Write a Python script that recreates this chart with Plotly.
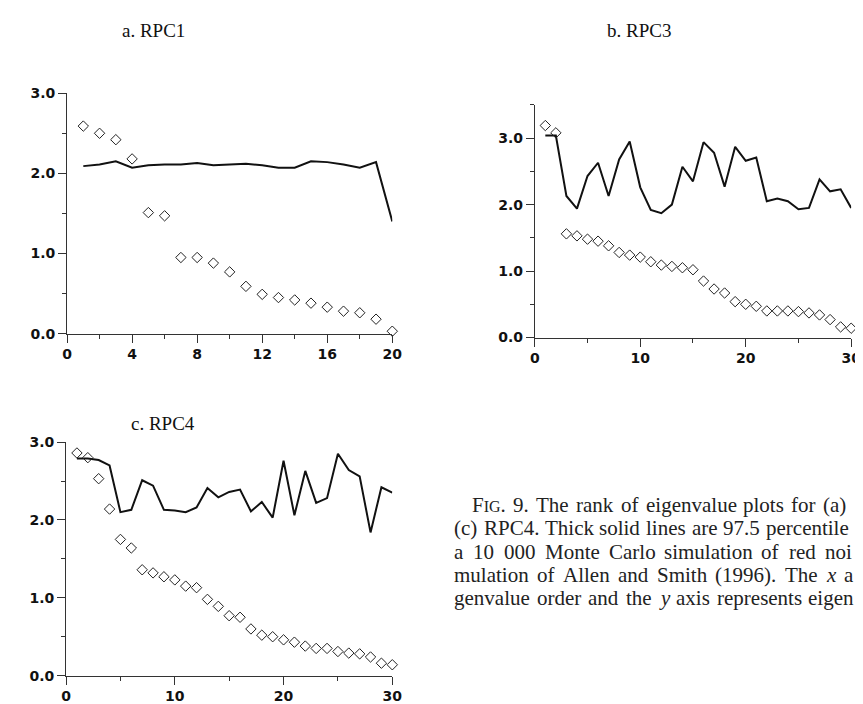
import plotly.graph_objects as go

# ---- data ----
order_a = list(range(1, 21))
eig_a = [2.59, 2.50, 2.42, 2.18, 1.51, 1.47, 0.95, 0.95, 0.88, 0.77,
         0.59, 0.49, 0.45, 0.42, 0.38, 0.33, 0.28, 0.26, 0.18, 0.03]
pct_a = [2.09, 2.11, 2.15, 2.07, 2.10, 2.11, 2.11, 2.13, 2.10, 2.11,
         2.12, 2.10, 2.07, 2.07, 2.15, 2.14, 2.11, 2.07, 2.14, 1.40]

order_b = list(range(1, 31))
eig_b = [3.19, 3.08, 1.56, 1.53, 1.48, 1.45, 1.38, 1.28, 1.24, 1.21,
         1.14, 1.09, 1.07, 1.05, 1.02, 0.85, 0.73, 0.67, 0.54, 0.50,
         0.47, 0.40, 0.40, 0.40, 0.39, 0.37, 0.34, 0.27, 0.16, 0.14]
pct_b = [3.04, 3.04, 2.13, 1.94, 2.43, 2.63, 2.13, 2.68, 2.95, 2.26,
         1.92, 1.87, 2.00, 2.57, 2.35, 2.94, 2.78, 2.27, 2.87, 2.66,
         2.71, 2.05, 2.09, 2.05, 1.93, 1.95, 2.38, 2.20, 2.23, 1.95]

order_c = list(range(1, 31))
eig_c = [2.86, 2.80, 2.53, 2.14, 1.75, 1.64, 1.36, 1.32, 1.27, 1.23,
         1.15, 1.13, 0.98, 0.89, 0.77, 0.75, 0.60, 0.52, 0.50, 0.46,
         0.43, 0.38, 0.35, 0.35, 0.31, 0.29, 0.28, 0.24, 0.16, 0.14]
pct_c = [2.79, 2.79, 2.77, 2.70, 2.10, 2.13, 2.51, 2.44, 2.13, 2.12,
         2.10, 2.16, 2.41, 2.29, 2.36, 2.39, 2.11, 2.23, 2.03, 2.76,
         2.06, 2.63, 2.22, 2.28, 2.85, 2.64, 2.56, 1.84, 2.42, 2.35]

titles = ["a. RPC1", "b. RPC3", "c. RPC4"]
caption_lines = [
    "FIG. 9. The rank of eigenvalue plots for (a)",
    "(c) RPC4. Thick solid lines are 97.5 percentile",
    "a 10 000 Monte Carlo simulation of red noi",
    "mulation of Allen and Smith (1996). The x a",
    "genvalue order and the y axis represents eigen",
]
italic_words = {"x", "y"}

W, H = 863, 704
fig = go.Figure()

panels = [
    (order_a, eig_a, pct_a, "x", "y"),
    (order_b, eig_b, pct_b, "x2", "y2"),
    (order_c, eig_c, pct_c, "x3", "y3"),
]
for xs, ev, pc, xa, ya in panels:
    fig.add_trace(go.Scatter(x=xs, y=pc, mode="lines", xaxis=xa, yaxis=ya,
                             line=dict(color="#111", width=2), showlegend=False,
                             cliponaxis=False))
    fig.add_trace(go.Scatter(x=xs, y=ev, mode="markers", xaxis=xa, yaxis=ya,
                             marker=dict(symbol="diamond-open", size=8,
                                         color="#222", line=dict(width=1)),
                             showlegend=False, cliponaxis=False))

def px_x(a, b):
    return [a / W, b / W]

def px_y(top, bottom):
    return [(H - bottom) / H, (H - top) / H]

tickfont = dict(family="DejaVu Sans, Arial, sans-serif", size=14, color="#111",
                weight="bold")

def xaxis(dom, rng, dt, mdt, anchor):
    return dict(domain=dom, range=rng, anchor=anchor, showgrid=False, zeroline=False,
                showline=True, linecolor="#333", linewidth=1,
                ticks="outside", ticklen=8, tickwidth=1, tickcolor="#333",
                tickmode="linear", tick0=0, dtick=dt, tickfont=tickfont,
                minor=dict(ticks="outside", ticklen=4, tickcolor="#333", dtick=mdt, tick0=0),
                fixedrange=True)

def yaxis(dom, rng, anchor):
    return dict(domain=dom, range=rng, anchor=anchor, showgrid=False, zeroline=False,
                showline=True, linecolor="#333", linewidth=1,
                ticks="outside", ticklen=8, tickwidth=1, tickcolor="#333",
                tickmode="linear", tick0=0, dtick=1, tickformat=".1f", tickfont=tickfont,
                minor=dict(ticks="outside", ticklen=4, tickcolor="#333", dtick=0.5, tick0=0),
                fixedrange=True)

fig.update_layout(
    width=W, height=H, autosize=False,
    margin=dict(l=0, r=0, t=0, b=0),
    paper_bgcolor="white", plot_bgcolor="white",
    xaxis=xaxis(px_x(55, 386), [0, 20], 4, 2, "y"),
    yaxis=yaxis(px_y(79, 325), [0, 3], "x"),
    xaxis2=xaxis(px_x(531, 853), [0, 30], 10, 5, "y2"),
    yaxis2=yaxis(px_y(91, 329), [0, 3.5], "x2"),
    xaxis3=xaxis(px_x(54, 386), [0, 30], 10, 5, "y3"),
    yaxis3=yaxis(px_y(436, 675), [0, 3], "x3"),
)

serif = "Liberation Serif, Times New Roman, serif"
title_pos = [(143, 15), (637, 15), (153, 417)]
for t, (cx, cy) in zip(titles, title_pos):
    fig.add_annotation(text=t, x=cx / W, y=(H - cy) / H, xref="paper", yref="paper",
                       xanchor="center", yanchor="middle", showarrow=False,
                       font=dict(family=serif, size=19, color="#111"))

# ---- justified caption (Times / Liberation Serif advance widths, per 1000 em) ----
TW = {' ': 250, 'a': 444, 'b': 500, 'c': 444, 'd': 500, 'e': 444, 'f': 333, 'g': 500,
      'h': 500, 'i': 278, 'k': 500, 'l': 278, 'm': 778, 'n': 500, 'o': 500, 'p': 500,
      'r': 333, 's': 389, 't': 278, 'u': 500, 'v': 500, 'x': 500, 'y': 500,
      'A': 722, 'C': 667, 'F': 556, 'G': 722, 'I': 333, 'M': 889, 'P': 556, 'R': 667,
      'S': 556, 'T': 611, '.': 250, '(': 333, ')': 333, ',': 250,
      '0': 500, '1': 500, '4': 500, '5': 500, '6': 500, '7': 500, '9': 500}
CAP_FS = 21
SC_FS = 16

def word_markup_and_width(w):
    if w == "FIG.":
        width = (TW['F'] + TW['.']) * CAP_FS / 1000 + (TW['I'] + TW['G']) * SC_FS / 1000
        return "F<span style='font-size:%dpx'>IG</span>." % SC_FS, width
    if w in italic_words:
        return "<i>%s</i>" % w, 444 * CAP_FS / 1000
    return w, sum(TW.get(ch, 500) for ch in w) * CAP_FS / 1000

cap_y = [500, 524, 548, 572, 596]
cap_start = [467, 449, 449, 449, 449]
cap_end = [848, 849, 853, 855, 855]
for line, cy, x0, x1 in zip(caption_lines, cap_y, cap_start, cap_end):
    words = line.split(" ")
    items = [word_markup_and_width(w) for w in words]
    total = sum(wd for _, wd in items)
    gap = (x1 - x0 - total) / (len(words) - 1)
    xpos = x0
    for markup, wd in items:
        fig.add_annotation(text=markup, x=xpos / W, y=(H - cy) / H,
                           xref="paper", yref="paper", xanchor="left", yanchor="middle",
                           showarrow=False, borderpad=0, borderwidth=0,
                           font=dict(family=serif, size=CAP_FS, color="#222"))
        xpos += wd + gap

fig.write_html("out.html")
